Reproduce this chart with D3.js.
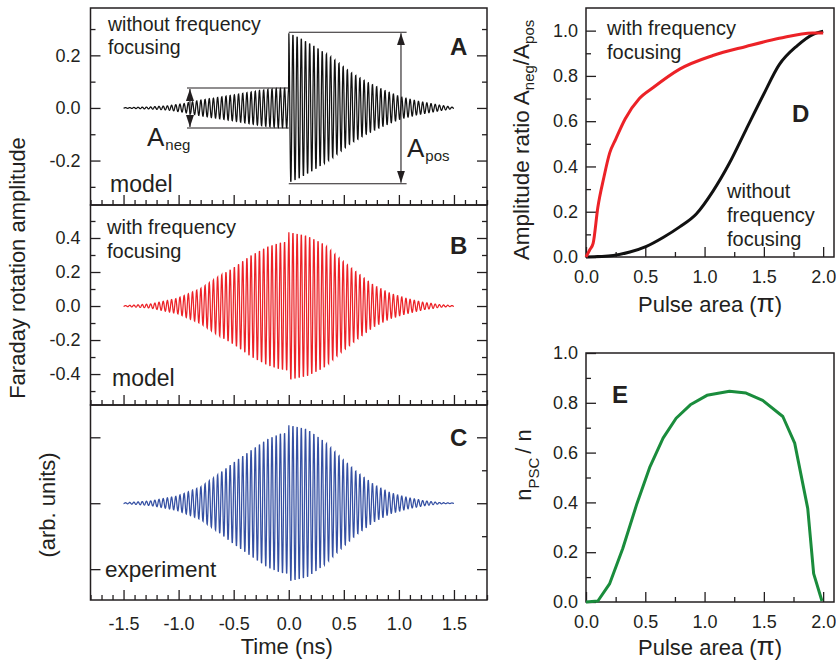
<!DOCTYPE html>
<html>
<head>
<meta charset="utf-8">
<script src="https://cdn.jsdelivr.net/npm/d3@7"></script>
<style>
    body { margin: 0; background: #fff; }
    svg { font-family: "Liberation Sans", Arial, Helvetica, sans-serif; }
</style>
</head>
<body>
<div id="chart"></div>
<script>

// ---- data ----

// upper envelope of the oscillating traces (trace is symmetric around 0)
const timeA = [-1.5, -1.25, -1.1, -0.95, -0.8, -0.65, -0.5, -0.35, -0.2, -0.1, -0.001, 0, 0.1, 0.255, 0.406, 0.557, 0.708, 0.86, 1.01, 1.16, 1.31, 1.5];
const ampA  = [0.001, 0.004, 0.008, 0.017, 0.03, 0.04, 0.05, 0.061, 0.071, 0.075, 0.076, 0.288, 0.27, 0.233, 0.189, 0.138, 0.10, 0.069, 0.043, 0.027, 0.015, 0.002];

const timeB = [-1.5, -1.255, -1.014, -0.8, -0.65, -0.497, -0.345, -0.194, -0.073, -0.001, 0, 0.165, 0.316, 0.467, 0.618, 0.769, 0.92, 1.07, 1.22, 1.37, 1.5];
const ampB  = [0.002, 0.012, 0.045, 0.104, 0.17, 0.23, 0.30, 0.353, 0.378, 0.384, 0.44, 0.418, 0.37, 0.28, 0.2, 0.124, 0.075, 0.045, 0.022, 0.008, 0.002];

const timeC = timeB;
const ampC  = [0.005, 0.035, 0.11, 0.25, 0.43, 0.63, 0.81, 0.985, 1.07, 1.085, 1.2, 1.14, 0.96, 0.71, 0.48, 0.29, 0.16, 0.09, 0.04, 0.01, 0.003];

const carrierPeriod = 0.038;   // ns, spacing of the oscillation lines

const ampNeg = 0.076;   // panel A markers
const ampPos = 0.288;

// panel D
const areaRed  = [0, 0.03, 0.06, 0.1, 0.15, 0.2, 0.25, 0.33, 0.45, 0.57, 0.79, 1.07, 1.35, 1.63, 1.91, 2.0];
const ratioRed = [0, 0.03, 0.06, 0.22, 0.35, 0.46, 0.52, 0.61, 0.70, 0.75, 0.83, 0.89, 0.93, 0.966, 0.99, 0.99];

const areaBlack  = [0, 0.23, 0.37, 0.51, 0.65, 0.79, 0.93, 1.07, 1.21, 1.35, 1.49, 1.63, 1.78, 1.92, 2.0];
const ratioBlack = [0, 0.007, 0.022, 0.047, 0.086, 0.133, 0.19, 0.29, 0.415, 0.563, 0.71, 0.85, 0.933, 0.985, 0.997];

// panel E
const areaGreen = [0, 0.1, 0.2, 0.31, 0.43, 0.54, 0.65, 0.76, 0.88, 1.02, 1.21, 1.35, 1.49, 1.66, 1.76, 1.87, 1.92, 1.99];
const fracGreen = [0, 0.004, 0.074, 0.215, 0.396, 0.544, 0.658, 0.738, 0.792, 0.83, 0.846, 0.839, 0.81, 0.745, 0.638, 0.376, 0.114, 0.004];

// ticks
const timeMajor = [-1.5, -1.0, -0.5, 0.0, 0.5, 1.0, 1.5];
const timeMinor = d3.range(-18, 19).map(d => d / 10);
const areaMajor = [0, 0.5, 1.0, 1.5, 2.0];
const areaMinor = [0.25, 0.75, 1.25, 1.75];
const ratioMajor = [0, 0.2, 0.4, 0.6, 0.8, 1.0];
const ratioMinor = [0.1, 0.3, 0.5, 0.7, 0.9];


// ---- drawing ----

const svg = d3.select("#chart").append("svg")
    .attr("width", 836)
    .attr("height", 661);

const ink = "#231f20";
const fmt = d => d.toFixed(1);

svg.append("defs").append("marker")
    .attr("id", "arrow")
    .attr("viewBox", "0 0 12 8")
    .attr("refX", 12)
    .attr("refY", 4)
    .attr("markerWidth", 12)
    .attr("markerHeight", 8)
    .attr("markerUnits", "userSpaceOnUse")
    .attr("orient", "auto-start-reverse")
    .append("path")
    .attr("d", "M0,0 L12,4 L0,8 z")
    .attr("fill", ink);

function styleAxis(g) {
    g.select(".domain").remove();
    g.selectAll("line").attr("stroke", ink).attr("stroke-width", 1.3);
    g.selectAll("text").attr("fill", ink).attr("font-size", 18);
}

// left column: three stacked time traces
const xTime = d3.scaleLinear().domain([-1.8, 1.8]).range([90.5, 487]);

const panels = [
    {name: "A", top: 8, bottom: 205, domain: [-0.369, 0.380], major: [-0.2, 0, 0.2], minor: [-0.3, -0.1, 0.1, 0.3],
        labels: true, times: timeA, amps: ampA, color: "#111111"},
    {name: "B", top: 205, bottom: 405, domain: [-0.582, 0.594], major: [-0.4, -0.2, 0, 0.2, 0.4], minor: [-0.5, -0.3, -0.1, 0.1, 0.3, 0.5],
        labels: true, times: timeB, amps: ampB, color: "#ec2227"},
    {name: "C", top: 405, bottom: 600, domain: [-1.468, 1.49], major: [-1, 0, 1], minor: [],
        labels: false, times: timeC, amps: ampC, color: "#3550a3"}
];

panels.forEach(function (p) {
    p.y = d3.scaleLinear().domain(p.domain).range([p.bottom, p.top]);

    // oscillating trace under its envelope
    let env = d3.scaleLinear().domain(p.times).range(p.amps).clamp(true);
    let t0 = p.times[0], t1 = p.times[p.times.length - 1];
    let pts = [];
    for (let t = t0; t <= t1 + 1e-9; t += carrierPeriod / 16) {
        pts.push([t, env(t) * Math.cos(2 * Math.PI * t / carrierPeriod)]);
    }
    svg.append("path")
        .datum(pts)
        .attr("fill", "none")
        .attr("stroke", p.color)
        .attr("stroke-width", 1.25)
        .attr("d", d3.line().x(d => xTime(d[0])).y(d => p.y(d[1])));

    // y axis, ticks pointing inwards
    let yAxis = svg.append("g")
        .attr("transform", "translate(" + xTime(-1.8) + ",0)")
        .call(d3.axisLeft(p.y).tickValues(p.major).tickSize(-10).tickPadding(10)
            .tickFormat(p.labels ? fmt : ""));
    styleAxis(yAxis);
    let yMinor = svg.append("g")
        .attr("transform", "translate(" + xTime(-1.8) + ",0)")
        .call(d3.axisLeft(p.y).tickValues(p.minor).tickSize(-5).tickFormat(""));
    styleAxis(yMinor);

    // mirrored ticks on the right side
    let yRight = svg.append("g")
        .attr("transform", "translate(" + xTime(1.8) + ",0)")
        .call(d3.axisRight(p.y).tickValues(p.major).tickSize(-10).tickFormat(""));
    styleAxis(yRight);
    let yRightMinor = svg.append("g")
        .attr("transform", "translate(" + xTime(1.8) + ",0)")
        .call(d3.axisRight(p.y).tickValues(p.name === "C" ? [-0.5, 0.5] : p.minor).tickSize(-5).tickFormat(""));
    styleAxis(yRightMinor);

    // x axis at the bottom of each panel
    let xAxis = svg.append("g")
        .attr("transform", "translate(0," + p.bottom + ")")
        .call(d3.axisBottom(xTime).tickValues(timeMajor).tickSize(-10).tickPadding(17)
            .tickFormat(p.name === "C" ? fmt : ""));
    styleAxis(xAxis);
    let xMinor = svg.append("g")
        .attr("transform", "translate(0," + p.bottom + ")")
        .call(d3.axisBottom(xTime).tickValues(timeMinor.filter(d => timeMajor.indexOf(d) < 0)).tickSize(-5).tickFormat(""));
    styleAxis(xMinor);

    svg.append("rect")
        .attr("x", xTime(-1.8))
        .attr("y", p.top)
        .attr("width", xTime(1.8) - xTime(-1.8))
        .attr("height", p.bottom - p.top)
        .attr("fill", "none")
        .attr("stroke", ink)
        .attr("stroke-width", 1.5);

    svg.append("text")
        .attr("x", 450)
        .attr("y", p.name === "A" ? 55 : p.name === "B" ? 254 : 446)
        .attr("font-size", 24)
        .attr("font-weight", "bold")
        .attr("fill", ink)
        .text(p.name);
});

// A_neg / A_pos markers in panel A
let yA = panels[0].y;
function hLine(xa, xb, v) {
    svg.append("line")
        .attr("x1", xTime(xa)).attr("x2", xTime(xb))
        .attr("y1", yA(v)).attr("y2", yA(v))
        .attr("stroke", ink).attr("stroke-width", 1.1);
}
hLine(-0.924, 0, ampNeg);
hLine(-0.924, 0, -ampNeg);
hLine(0, 1.07, ampPos);
hLine(0, 1.07, -ampPos);

function arrowLine(t, v) {
    svg.append("line")
        .attr("x1", xTime(t)).attr("x2", xTime(t))
        .attr("y1", yA(-v) - 1).attr("y2", yA(v) + 1)
        .attr("stroke", ink).attr("stroke-width", 1.1)
        .attr("marker-start", "url(#arrow)")
        .attr("marker-end", "url(#arrow)");
}
arrowLine(-0.897, ampNeg);
arrowLine(1.019, ampPos);

function subLabel(x, y, main, sub, size) {
    let t = svg.append("text").attr("x", x).attr("y", y).attr("font-size", size).attr("fill", ink);
    t.append("tspan").text(main);
    t.append("tspan").attr("font-size", 15).attr("dy", 4).attr("dx", 1).text(sub);
}
subLabel(147, 146, "A", "neg", 26);
subLabel(407, 157, "A", "pos", 26);

function note(x, y, lines, size) {
    lines.forEach(function (s, i) {
        svg.append("text")
            .attr("x", x)
            .attr("y", y + i * size * 1.2)
            .attr("font-size", size)
            .attr("fill", ink)
            .text(s);
    });
}
note(108, 31, ["without frequency", "focusing"], 19.5);
note(110, 192, ["model"], 23);
note(107, 234, ["with frequency", "focusing"], 20);
note(112, 386, ["model"], 23);
note(105, 577, ["experiment"], 22.5);

svg.append("text")
    .attr("x", (xTime(-1.8) + xTime(1.8)) / 2 - 2)
    .attr("y", 654)
    .attr("text-anchor", "middle")
    .attr("font-size", 22)
    .attr("fill", ink)
    .text("Time (ns)");

svg.append("text")
    .attr("transform", "translate(25,268) rotate(-90)")
    .attr("text-anchor", "middle")
    .attr("font-size", 22)
    .attr("fill", ink)
    .text("Faraday rotation amplitude");

svg.append("text")
    .attr("transform", "translate(55,505) rotate(-90)")
    .attr("text-anchor", "middle")
    .attr("font-size", 22)
    .attr("fill", ink)
    .text("(arb. units)");


// right column: D and E
const xArea = d3.scaleLinear().domain([0, 2.1]).range([586, 835]);
const yD = d3.scaleLinear().domain([0, 1.1]).range([257, 8]);
const yE = d3.scaleLinear().domain([0, 1.0]).range([602, 353]);

function frame(y, top, bottom) {
    let xa = svg.append("g").attr("transform", "translate(0," + bottom + ")")
        .call(d3.axisBottom(xArea).tickValues(areaMajor).tickSize(-10).tickPadding(13).tickFormat(fmt));
    styleAxis(xa);
    let xm = svg.append("g").attr("transform", "translate(0," + bottom + ")")
        .call(d3.axisBottom(xArea).tickValues(areaMinor).tickSize(-5).tickFormat(""));
    styleAxis(xm);
    let ya = svg.append("g").attr("transform", "translate(" + xArea(0) + ",0)")
        .call(d3.axisLeft(y).tickValues(ratioMajor).tickSize(-10).tickPadding(8).tickFormat(fmt));
    styleAxis(ya);
    let ym = svg.append("g").attr("transform", "translate(" + xArea(0) + ",0)")
        .call(d3.axisLeft(y).tickValues(ratioMinor).tickSize(-5).tickFormat(""));
    styleAxis(ym);
    svg.append("rect")
        .attr("x", xArea(0)).attr("y", top)
        .attr("width", xArea(2.1) - xArea(0) - 1).attr("height", bottom - top)
        .attr("fill", "none").attr("stroke", ink).attr("stroke-width", 1.5);
}
frame(yD, 8, 257);
frame(yE, 353, 602);

function curve(xs, ys, y, color, smooth) {
    svg.append("path")
        .datum(xs.map((d, i) => [d, ys[i]]))
        .attr("fill", "none")
        .attr("stroke", color)
        .attr("stroke-width", 3)
        .attr("stroke-linejoin", "round")
        .attr("d", d3.line().x(d => xArea(d[0])).y(d => y(d[1]))
            .curve(smooth ? d3.curveMonotoneX : d3.curveLinear));
}
curve(areaBlack, ratioBlack, yD, "#111111", true);
curve(areaRed, ratioRed, yD, "#ec2227", true);
curve(areaGreen, fracGreen, yE, "#1a8c3c", false);

note(607, 35, ["with frequency", "focusing"], 20);
note(727, 198, ["without", "frequency", "focusing"], 20);

svg.append("text").attr("x", 792).attr("y", 122).attr("font-size", 24)
    .attr("font-weight", "bold").attr("fill", ink).text("D");
svg.append("text").attr("x", 612).attr("y", 403).attr("font-size", 24)
    .attr("font-weight", "bold").attr("fill", ink).text("E");

[[312, "D"], [655, "E"]].forEach(function (d) {
    let t = svg.append("text")
        .attr("x", 710).attr("y", d[0])
        .attr("text-anchor", "middle")
        .attr("font-size", 22)
        .attr("fill", ink);
    t.append("tspan").text("Pulse area (");
    t.append("tspan").attr("font-size", 26).text("\u03c0");
    t.append("tspan").text(")");
});

let yTitleD = svg.append("text")
    .attr("transform", "translate(529,140) rotate(-90)")
    .attr("text-anchor", "middle")
    .attr("font-size", 22.5)
    .attr("fill", ink);
yTitleD.append("tspan").text("Amplitude ratio A");
yTitleD.append("tspan").attr("font-size", 15).attr("dy", 5).text("neg");
yTitleD.append("tspan").attr("dy", -5).text("/A");
yTitleD.append("tspan").attr("font-size", 15).attr("dy", 5).text("pos");

let yTitleE = svg.append("text")
    .attr("transform", "translate(531,465) rotate(-90)")
    .attr("text-anchor", "middle")
    .attr("font-size", 22)
    .attr("fill", ink);
yTitleE.append("tspan").text("n");
yTitleE.append("tspan").attr("font-size", 15).attr("dy", 8).text("PSC");
yTitleE.append("tspan").attr("dy", -8).attr("dx", 4).text("/ n");

</script>
</body>
</html>
